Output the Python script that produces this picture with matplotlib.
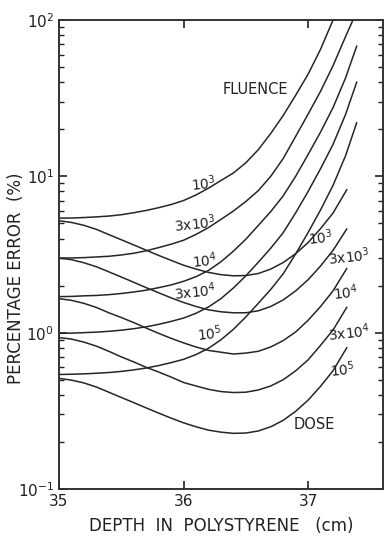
import numpy as np
import matplotlib.pyplot as plt
from matplotlib.ticker import LogLocator, NullFormatter, FixedLocator

# depth (cm)
x_flu = [35.0, 35.1, 35.2, 35.3, 35.4, 35.5, 35.6, 35.7, 35.8, 35.9, 36.0, 36.1, 36.2,
         36.3, 36.4, 36.5, 36.6, 36.7, 36.8, 36.9, 37.0, 37.1, 37.2, 37.3, 37.39]
x_dose = [35.0, 35.1, 35.2, 35.3, 35.4, 35.5, 35.6, 35.7, 35.8, 35.9, 36.0, 36.1, 36.2,
          36.3, 36.4, 36.5, 36.6, 36.7, 36.8, 36.9, 37.0, 37.1, 37.2, 37.31]

# fluence curves (percentage error)
flu_1e3 = [5.4, 5.41, 5.45, 5.5, 5.57, 5.68, 5.85, 6.05, 6.3, 6.6, 7.0, 7.6, 8.4,
           9.4, 10.5, 12.2, 14.8, 18.8, 24.5, 33, 45, 65, 100]
flu_3e3 = [3.0, 3.005, 3.02, 3.05, 3.08, 3.14, 3.22, 3.34, 3.5, 3.68, 3.9, 4.25, 4.7,
           5.3, 6.0, 6.9, 8.1, 10, 13, 18, 25, 35, 51, 78, 100]
flu_1e4 = [1.7, 1.705, 1.72, 1.73, 1.75, 1.78, 1.82, 1.87, 1.94, 2.02, 2.13, 2.28, 2.5,
           2.84, 3.32, 3.96, 4.85, 5.95, 7.5, 10.0, 13.8, 19.2, 27.5, 42.5, 68]
flu_3e4 = [0.99, 0.993, 1.0, 1.008, 1.02, 1.037, 1.06, 1.09, 1.13, 1.18, 1.24, 1.33, 1.46,
           1.65, 1.93, 2.31, 2.82, 3.47, 4.36, 5.84, 8.0, 11.2, 16.0, 24.8, 40]
flu_1e5 = [0.54, 0.542, 0.545, 0.55, 0.556, 0.565, 0.578, 0.594, 0.616, 0.643, 0.675, 0.724, 0.794,
           0.9, 1.05, 1.26, 1.54, 1.89, 2.38, 3.19, 4.37, 6.1, 8.75, 13.5, 22]

# dose curves
dose_1e3 = [5.2, 5.07, 4.86, 4.58, 4.24, 3.93, 3.64, 3.37, 3.12, 2.9, 2.7, 2.55, 2.43,
            2.35, 2.31, 2.32, 2.39, 2.55, 2.81, 3.2, 3.77, 4.63, 5.82, 8.2]
dose_3e3 = [3.0, 2.93, 2.8, 2.64, 2.45, 2.27, 2.1, 1.94, 1.8, 1.67, 1.56, 1.47, 1.4,
            1.36, 1.34, 1.34, 1.38, 1.47, 1.62, 1.85, 2.18, 2.67, 3.36, 4.6]
dose_1e4 = [1.65, 1.61, 1.54, 1.45, 1.34, 1.25, 1.16, 1.07, 0.99, 0.92, 0.86, 0.81, 0.77,
            0.75, 0.73, 0.74, 0.76, 0.81, 0.89, 1.01, 1.2, 1.47, 1.85, 2.57]
dose_3e4 = [0.93, 0.91, 0.87, 0.82, 0.76, 0.70, 0.65, 0.60, 0.56, 0.52, 0.48, 0.456, 0.434,
            0.42, 0.414, 0.416, 0.43, 0.456, 0.50, 0.57, 0.67, 0.83, 1.04, 1.45]
dose_1e5 = [0.51, 0.497, 0.477, 0.449, 0.416, 0.385, 0.357, 0.33, 0.306, 0.284, 0.265, 0.25, 0.238,
            0.231, 0.227, 0.228, 0.235, 0.25, 0.275, 0.314, 0.37, 0.454, 0.571, 0.80]

flu_labels = ['10$^3$', '3x10$^3$', '10$^4$', '3x10$^4$', '10$^5$']
flu_label_pos = [(36.16, 9.0), (36.09, 5.0), (36.17, 2.9), (36.09, 1.83), (36.21, 0.99)]
dose_labels = ['10$^3$', '3x10$^3$', '10$^4$', '3x10$^4$', '10$^5$']
dose_label_pos = [(37.1, 4.06), (37.33, 3.07), (37.3, 1.8), (37.33, 1.0), (37.28, 0.58)]

fig = plt.figure(figsize=(3.84, 5.36), dpi=100)
ax = fig.add_axes([0.1536, 0.0877, 0.8434, 0.875])

lc = '#262626'
ax.plot(x_flu[:len(flu_1e3)], flu_1e3, color=lc, lw=1.1)
ax.plot(x_flu[:-1] + [37.36], flu_3e3, color=lc, lw=1.1)
for yy in [flu_1e4, flu_3e4, flu_1e5]:
    ax.plot(x_flu, yy, color=lc, lw=1.1)
for yy in [dose_1e3, dose_3e3, dose_1e4, dose_3e4, dose_1e5]:
    ax.plot(x_dose, yy, color=lc, lw=1.1)

ax.set_yscale('log')
ax.set_xlim(35, 37.6)
ax.set_ylim(0.1, 100)

for lab, (xx, yy) in zip(flu_labels, flu_label_pos):
    ax.text(xx, yy, lab, fontsize=10, ha='center', va='center', color='#222222', rotation=6)
for lab, (xx, yy) in zip(dose_labels, dose_label_pos):
    ax.text(xx, yy, lab, fontsize=10, ha='center', va='center', color='#222222', rotation=6)
ax.text(36.58, 35.7, 'FLUENCE', fontsize=10.5, ha='center', va='center', color='#222222')
ax.text(37.05, 0.26, 'DOSE', fontsize=10.5, ha='center', va='center', color='#222222')

ax.xaxis.set_major_locator(FixedLocator([35, 36, 37]))
ax.set_xticklabels(['35', '36', '37'])
ax.yaxis.set_major_locator(LogLocator(base=10))
ax.yaxis.set_minor_locator(LogLocator(base=10, subs=np.arange(2, 10)))
ax.yaxis.set_minor_formatter(NullFormatter())
ax.tick_params(which='both', direction='in', top=True, right=True, labelsize=11, colors='#222222')
ax.tick_params(which='major', length=6, width=1.2)
ax.tick_params(which='minor', length=3.5, width=1)
for s in ax.spines.values():
    s.set_linewidth(1.4)
    s.set_color('#333333')

ax.set_xlabel('DEPTH  IN  POLYSTYRENE   (cm)', fontsize=12, color='#222222', labelpad=6)
ax.set_ylabel('PERCENTAGE ERROR  (%)', fontsize=12, color='#222222')
ax.yaxis.set_label_coords(-0.105, 0.45)

fig.savefig('out.png', dpi=100)
